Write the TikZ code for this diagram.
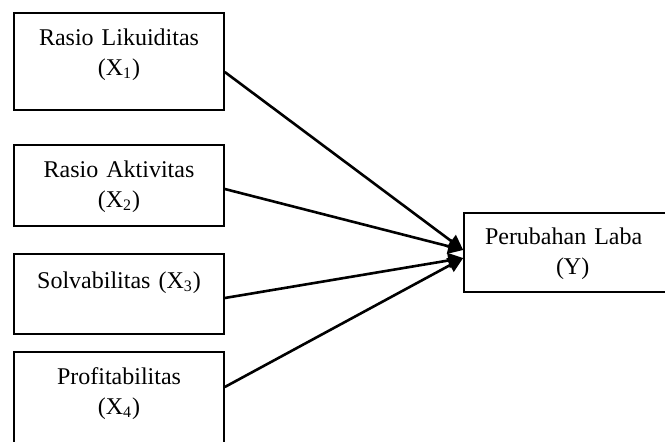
\documentclass[tikz,border=0pt]{standalone}
\usepackage{fontspec}
\setmainfont{Liberation Serif}
\usepackage{tikz}
\usetikzlibrary{shapes,arrows,arrows.meta,positioning}
\tikzstyle{block} = [rectangle, draw, line width=0.8pt, text width=105pt,
    align=center, inner sep=0pt, font=\fontsize{12}{15}\selectfont]
\tikzstyle{wideblock} = [rectangle, draw, line width=0.8pt, text width=83pt,
    align=left, inner xsep=10.5pt, inner ysep=0pt, font=\fontsize{12}{15}\selectfont]
\tikzstyle{arrow} = [draw, -{Triangle[length=7.5pt,width=7.5pt]}, line width=1.3pt]

\begin{document}
\begin{tikzpicture}[x=0.5pt, y=-0.5pt, node distance=62pt]
			\useasboundingbox (0,0) rectangle (665,441);
			\clip (0,0) rectangle (665,441);
			% Place nodes
			\node [block, text height=16pt, text depth=32.5pt] (likuiditas) at (119,61.5) {Rasio Likuiditas\\(X\textsubscript{1})};
			\node [block, text height=16pt, text depth=24.5pt, below of=likuiditas] (aktivitas) {Rasio Aktivitas\\(X\textsubscript{2})};
			\node [block, text height=17pt, text depth=23pt, below of=aktivitas, node distance=54.25pt] (solvabilitas) {Solvabilitas (X\textsubscript{3})};
			\node [block, text height=16pt, text depth=33pt, below of=solvabilitas, node distance=53.5pt] (profitabilitas) {Profitabilitas\\(X\textsubscript{4})};

			\node [wideblock, text height=15.5pt, text depth=24pt] (laba) at (568,252.5) {Perubahan Laba\\\hspace*{35.5pt}(Y)};

			% Draw edges
			\path [arrow] ([yshift=-5.25pt]likuiditas.east) -- ([yshift=1.25pt]laba.west);
			\path [arrow] ([yshift=-1.75pt]aktivitas.east) -- ([yshift=1.25pt]laba.west);
			\path [arrow] ([yshift=-2pt]solvabilitas.east) -- ([yshift=-2.75pt]laba.west);
			\path [arrow] ([yshift=7pt]profitabilitas.east) -- ([yshift=-2.75pt]laba.west);
	\end{tikzpicture}
\end{document}
